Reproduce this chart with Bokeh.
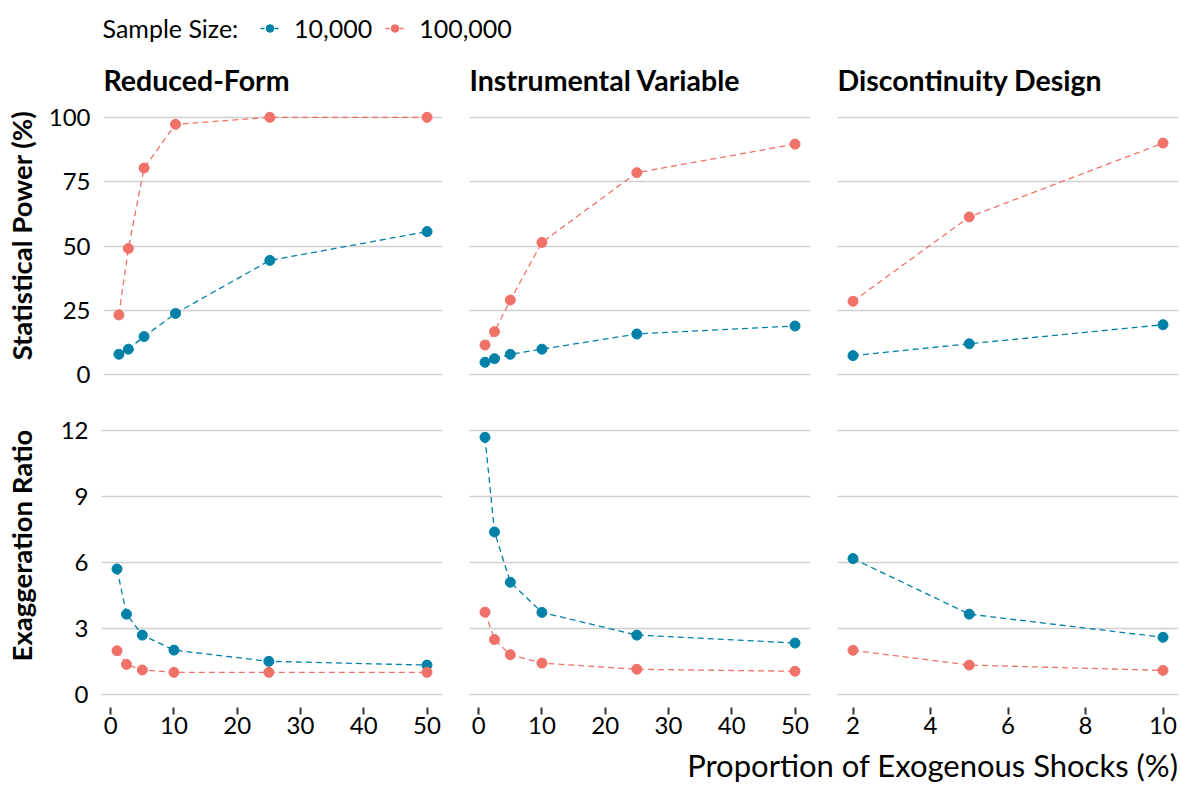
import math
from bokeh.plotting import figure
from bokeh.layouts import column, row
from bokeh.models import Range1d, FixedTicker, Legend, LegendItem, Label
from bokeh.embed import file_html
from bokeh.resources import INLINE

FONT = "Lato"
BLUE = "#0081A7"
RED = "#F07167"
GRID = "#CFCFCF"

# ---------------- data ----------------
designs = ["Reduced-Form", "Instrumental Variable", "Discontinuity Design"]
sample_labels = ["10,000", "100,000"]

shares_rf = [1, 2.5, 5, 10, 25, 50]
shares_iv = [1, 2.5, 5, 10, 25, 50]
shares_dd = [2, 5, 10]

power_10k_rf = [7.9, 9.9, 14.8, 23.8, 44.4, 55.6]
power_100k_rf = [23.2, 49.0, 80.3, 97.3, 100.0, 100.0]
power_10k_iv = [4.8, 6.2, 7.9, 9.9, 15.8, 18.9]
power_100k_iv = [11.5, 16.7, 29.0, 51.4, 78.5, 89.6]
power_10k_dd = [7.4, 12.0, 19.4]
power_100k_dd = [28.5, 61.3, 90.0]

exag_10k_rf = [5.70, 3.65, 2.70, 2.02, 1.51, 1.34]
exag_100k_rf = [1.99, 1.37, 1.12, 1.01, 1.01, 1.01]
exag_10k_iv = [11.67, 7.38, 5.10, 3.73, 2.70, 2.34]
exag_100k_iv = [3.74, 2.50, 1.81, 1.43, 1.15, 1.06]
exag_10k_dd = [6.17, 3.65, 2.60]
exag_100k_dd = [2.01, 1.34, 1.10]

power_ticks = [0, 25, 50, 75, 100]
exag_ticks = [0, 3, 6, 9, 12]
x_ticks_wide = [0, 10, 20, 30, 40, 50]
x_ticks_dd = [2, 4, 6, 8, 10]

y_title_power = "Statistical Power (%)"
y_title_exag = "Exaggeration Ratio"
x_title = "Proportion of Exogenous Shocks (%)"
legend_title = "Sample Size:"

shares = [shares_rf, shares_iv, shares_dd]
power10 = [power_10k_rf, power_10k_iv, power_10k_dd]
power100 = [power_100k_rf, power_100k_iv, power_100k_dd]
exag10 = [exag_10k_rf, exag_10k_iv, exag_10k_dd]
exag100 = [exag_100k_rf, exag_100k_iv, exag_100k_dd]
x_ticks = [x_ticks_wide, x_ticks_wide, x_ticks_dd]

# ---------------- layout ----------------
W = 1178
YT_W = 45          # width of the y-title strip
FRAME_W = 341
GAP = 27
AXIS_W = 56        # room for y tick labels of the first column
FRAME_H = 283
TOP1, BOT1 = 58, 0
TOP2, BOT2 = 37, 40
LH = 46            # legend strip
XH = 39            # x-title strip
TICK_PX = "24px"
STRIP_PX = "28.5px"
YTITLE_PX = "27.5px"


def expand(lo, hi, f=0.05):
    d = (hi - lo) * f
    return lo - d, hi + d


def blank(width, height, top=0, bottom=0):
    f = figure(width=width, height=height + top + bottom,
               x_range=Range1d(0, width), y_range=Range1d(0, height),
               output_backend="svg", toolbar_location=None,
               min_border_left=0, min_border_right=0,
               min_border_top=top, min_border_bottom=bottom,
               x_axis_type=None, y_axis_type=None)
    f.outline_line_color = None
    f.grid.visible = False
    f.background_fill_color = "white"
    f.border_fill_color = "white"
    return f


def panel(ci, ri, xs, y10, y100, yticks, ylo, yhi):
    left = AXIS_W if ci == 0 else GAP
    top = TOP1 if ri == 0 else TOP2
    bottom = BOT1 if ri == 0 else BOT2
    x0, x1 = expand(min(xs), max(xs))
    y0, y1 = expand(ylo, yhi)
    p = figure(width=left + FRAME_W, height=top + FRAME_H + bottom,
               x_range=Range1d(x0, x1), y_range=Range1d(y0, y1),
               output_backend="svg", toolbar_location=None,
               title=designs[ci] if ri == 0 else None,
               min_border_left=left, min_border_right=0,
               min_border_top=top, min_border_bottom=bottom)
    p.outline_line_color = None
    p.background_fill_color = "white"
    p.border_fill_color = "white"
    if ri == 0:
        p.title.text_font = FONT
        p.title.text_font_size = STRIP_PX
        p.title.text_font_style = "bold"
        p.title.text_color = "black"
        p.title.align = "left"
        p.title.standoff = 16
        p.title.offset = 0
    p.xgrid.visible = False
    p.ygrid.ticker = FixedTicker(ticks=yticks)
    p.ygrid.grid_line_color = GRID
    p.ygrid.grid_line_width = 1.3

    xa = p.xaxis[0]
    xa.ticker = FixedTicker(ticks=x_ticks[ci])
    if ri == 0:
        xa.visible = False
    else:
        xa.axis_line_color = None
        xa.major_tick_out = 7
        xa.major_tick_in = 0
        xa.major_tick_line_color = "#333333"
        xa.major_tick_line_width = 2
        xa.minor_tick_line_color = None
        xa.major_label_text_font = FONT
        xa.major_label_text_font_size = TICK_PX
        xa.major_label_text_color = "black"
        xa.major_label_standoff = 2
    ya = p.yaxis[0]
    ya.ticker = FixedTicker(ticks=yticks)
    if ci != 0:
        ya.visible = False
    else:
        ya.axis_line_color = None
        ya.major_tick_out = 0
        ya.major_tick_in = 0
        ya.minor_tick_line_color = None
        ya.major_tick_line_color = None
        ya.major_label_text_font = FONT
        ya.major_label_text_font_size = TICK_PX
        ya.major_label_text_color = "black"
        ya.major_label_standoff = 13

    for ys, col in ((y10, BLUE), (y100, RED)):
        p.line(xs, ys, line_color=col, line_width=1.3, line_dash="6 4")
        p.scatter(xs, ys, size=10, fill_color=col, line_color=col)
    return p


pmax = max(max(v) for v in power10 + power100)
emax = max(max(v) for v in exag10 + exag100)
top_figs = [panel(ci, 0, shares[ci], power10[ci], power100[ci], power_ticks, 0, pmax)
            for ci in range(3)]
bot_figs = [panel(ci, 1, shares[ci], exag10[ci], exag100[ci], exag_ticks, 0, emax)
            for ci in range(3)]

# ---------------- y-title strips (same frame height as the panels) ----------------
yt1 = blank(YT_W, FRAME_H, top=TOP1, bottom=BOT1)
yt1.add_layout(Label(x=21, y=152, text=y_title_power, angle=math.pi / 2,
                     text_font=FONT, text_font_size=YTITLE_PX, text_font_style="bold",
                     text_color="black", text_align="center", text_baseline="middle"))
yt2 = blank(YT_W, FRAME_H, top=TOP2, bottom=BOT2)
yt2.add_layout(Label(x=21, y=162, text=y_title_exag, angle=math.pi / 2,
                     text_font=FONT, text_font_size=YTITLE_PX, text_font_style="bold",
                     text_color="black", text_align="center", text_baseline="middle"))

# ---------------- legend strip ----------------
lf = blank(W, LH)
lf.extra_y_ranges = {"offscreen": Range1d(1000, 1001)}
lf.add_layout(Label(x=102, y=19, text=legend_title, text_font=FONT,
                    text_font_size="25px", text_color="black",
                    text_baseline="middle", text_align="left"))
items = []
for lab, col, ys in zip(sample_labels, (BLUE, RED), (power_10k_rf, power_100k_rf)):
    rl = lf.line(shares_rf, ys, line_color=col, line_width=1.3, line_dash="4 3",
                 y_range_name="offscreen")
    rs = lf.scatter(shares_rf, ys, size=10, fill_color=col, line_color=col,
                    y_range_name="offscreen")
    items.append(LegendItem(label=lab, renderers=[rl, rs]))
leg = Legend(items=items, orientation="horizontal", location=(260, 3),
             label_text_font=FONT, label_text_font_size="25px",
             label_text_color="black", glyph_width=19, glyph_height=20,
             label_standoff=15, spacing=13, padding=0, margin=0,
             border_line_color=None, background_fill_alpha=0)
lf.add_layout(leg)

# ---------------- x-axis title strip ----------------
xf = blank(W, XH)
xf.add_layout(Label(x=W, y=22, text=x_title, text_font=FONT,
                    text_font_size="31px", text_color="black",
                    text_align="right", text_baseline="middle"))

layout = column(lf, row(yt1, *top_figs), row(yt2, *bot_figs), xf)

open("out.html", "w").write(file_html(layout, INLINE))
